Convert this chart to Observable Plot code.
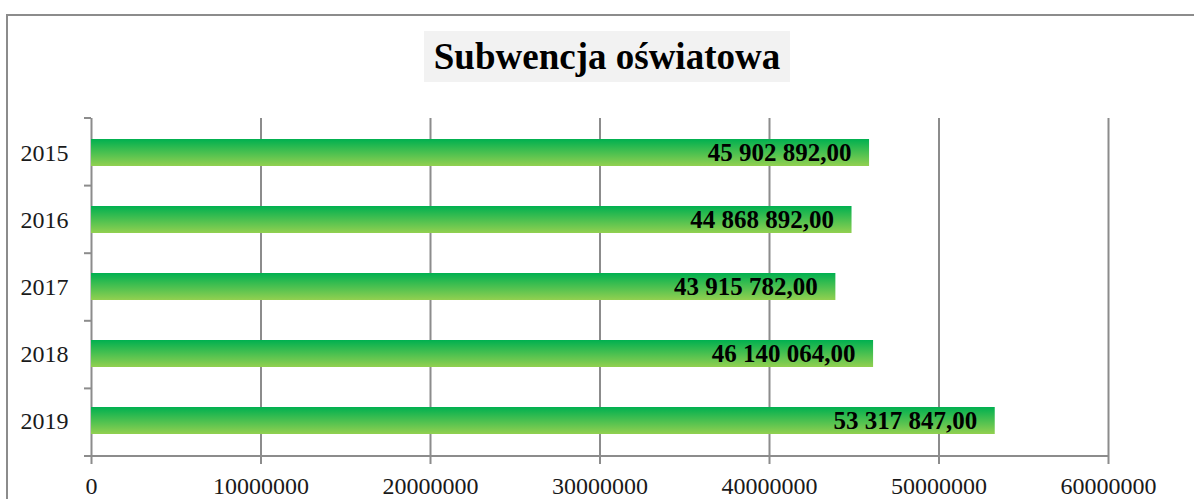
<!DOCTYPE html>
<html><head><meta charset="utf-8">
<script src="https://cdn.jsdelivr.net/npm/d3@7"></script>
<script src="https://cdn.jsdelivr.net/npm/@observablehq/plot@0.6"></script>
<style>
html,body{margin:0;padding:0;background:#fff;}
#wrap{position:relative;width:1194px;height:499px;overflow:hidden;}
#border{position:absolute;left:6px;top:14px;width:1300px;height:600px;border:2px solid #8c8c8c;box-sizing:border-box;}
#title{position:absolute;left:424px;top:31px;width:366px;height:51px;background:#f2f2f2;font:bold 37px "Liberation Serif",serif;text-align:center;line-height:51px;color:#000;}
#chart{position:absolute;left:0;top:0;}
</style></head>
<body><div id="wrap"><div id="border"></div><div id="chart"></div><div id="title">Subwencja oświatowa</div></div>
<script>
const years = ["2015", "2016", "2017", "2018", "2019"];
const values = [45902892, 44868892, 43915782, 46140064, 53317847];
const valueLabels = ["45 902 892,00", "44 868 892,00", "43 915 782,00", "46 140 064,00", "53 317 847,00"];
const xTicks = [0, 10000000, 20000000, 30000000, 40000000, 50000000, 60000000];

const data = years.map((y, i) => ({year: y, value: values[i], label: valueLabels[i]}));

const gradDefs = () => {
  const defs = d3.create("svg:defs");
  const g = defs.append("linearGradient").attr("id", "barGrad")
    .attr("x1", 0).attr("y1", 0).attr("x2", 0).attr("y2", 1);
  g.append("stop").attr("offset", "0%").attr("stop-color", "#00b050");
  g.append("stop").attr("offset", "100%").attr("stop-color", "#92d050");
  return defs.node();
};

const axisExtras = (index, scales, values, dims) => {
  const g = d3.create("svg:g").attr("stroke", "#8c8c8c").attr("stroke-width", 2);
  const top = dims.marginTop, bottom = dims.height - dims.marginBottom;
  const left = dims.marginLeft, right = dims.width - dims.marginRight;
  const step = (bottom - top) / years.length;
  for (let i = 0; i <= years.length; i++) {
    const yy = top + i * step;
    g.append("line").attr("x1", left - 7).attr("x2", left).attr("y1", yy).attr("y2", yy);
  }
  g.append("line").attr("x1", left).attr("x2", right).attr("y1", bottom).attr("y2", bottom);
  return g.node();
};

const chart = Plot.plot({
  width: 1194, height: 499,
  marginLeft: 91, marginRight: 86, marginTop: 118, marginBottom: 43,
  style: {fontFamily: "'Liberation Serif', serif", fontSize: "24px", color: "#1a1a1a", background: "transparent", overflow: "visible"},
  x: {domain: [0, 60000000], ticks: xTicks, tickFormat: d => String(d), tickSize: 0, tickPadding: 20, label: null},
  y: {domain: years, paddingInner: 0.59, paddingOuter: 0.295, tickSize: 0, tickPadding: 23, label: null},
  marks: [
    gradDefs,
    Plot.ruleX(xTicks, {stroke: "#8c8c8c", strokeWidth: 2, insetBottom: -8}),
    axisExtras,
    Plot.barX(data, {x: "value", y: "year", fill: "url(#barGrad)"}),
    Plot.text(data, {x: "value", y: "year", text: "label", textAnchor: "end", dx: -18,
      fontWeight: "bold", fontSize: 25, fontFamily: "'Liberation Serif', serif", fill: "#000"})
  ]
});
document.getElementById("chart").appendChild(chart);
</script>
</body></html>
